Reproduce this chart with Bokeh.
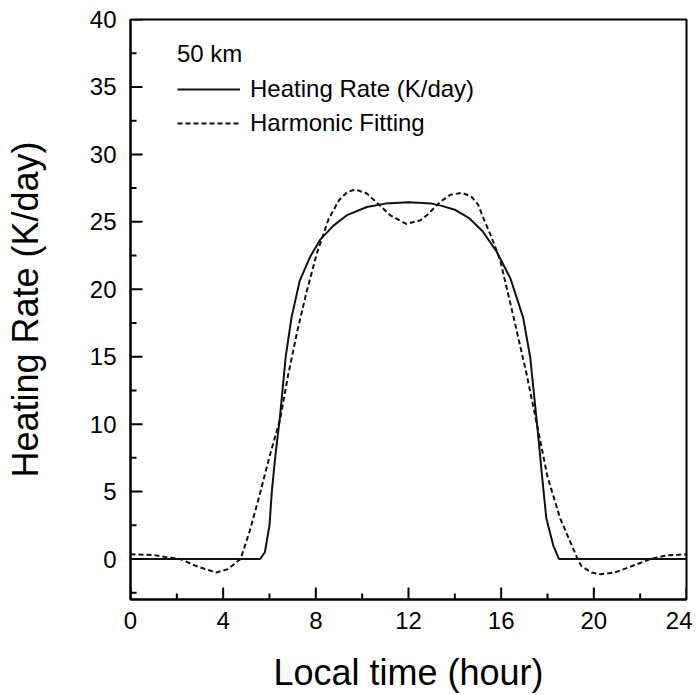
from bokeh.plotting import figure
from bokeh.models import FixedTicker, Legend, LegendItem, Range1d
from bokeh.embed import file_html
from bokeh.resources import INLINE

# ---- data ----
hr_time = [0.0, 5.6, 5.8, 6.0, 6.1, 6.25, 6.45, 6.7, 6.95, 7.3, 7.75, 8.2, 8.75, 9.35,
           10.2, 11.0, 12.0, 13.0, 13.4, 14.0, 14.6, 15.2, 15.8, 16.4, 16.95, 17.25,
           17.55, 17.75, 17.95, 18.25, 18.5, 24.0]
hr_value = [0.0, 0.0, 0.5, 2.5, 5.0, 7.6, 10.5, 15.0, 17.9, 20.6, 22.4, 23.7, 24.7, 25.5,
            26.1, 26.35, 26.45, 26.35, 26.2, 25.9, 25.3, 24.3, 22.8, 20.8, 17.9, 15.0,
            10.0, 6.4, 3.0, 1.0, 0.0, 0.0]

fit_time = [0.0, 1.0, 1.5, 2.15, 2.8, 3.7, 4.2, 4.75, 5.15, 5.55, 6.0, 6.45, 6.8, 7.2,
            7.6, 8.05, 8.55, 9.0, 9.35, 9.7, 10.2, 10.65, 11.2, 11.9, 12.5, 12.8, 13.35,
            13.8, 14.3, 14.7, 15.0, 15.25, 15.55, 15.95, 16.5, 17.1, 17.6, 18.0, 18.55,
            19.25, 19.45, 19.9, 20.3, 20.9, 21.45, 22.45, 23.15, 24.0]
fit_value = [0.35, 0.3, 0.15, 0.0, -0.5, -1.0, -0.75, 0.0, 2.1, 4.6, 7.6, 10.3, 13.6, 16.9,
             19.8, 22.7, 25.2, 26.6, 27.2, 27.4, 27.1, 26.4, 25.5, 24.85, 25.1, 25.5, 26.45,
             27.0, 27.15, 26.9, 26.3, 25.2, 24.0, 22.2, 18.2, 13.7, 9.5, 6.1, 3.0,
             0.2, -0.5, -1.0, -1.13, -1.0, -0.65, 0.0, 0.27, 0.35]

x_major = [0, 4, 8, 12, 16, 20, 24]
x_minor = [2, 6, 10, 14, 18, 22]
y_major = [0, 5, 10, 15, 20, 25, 30, 35, 40]
y_minor = [-2.5, 2.5, 7.5, 12.5, 17.5, 22.5, 27.5, 32.5, 37.5]

legend_title = "50 km"
label_solid = "Heating Rate (K/day)"
label_dashed = "Harmonic Fitting"

FONT = "Liberation Sans"

X0, X1 = 0, 24
Y0, Y1 = -3, 40
W, H = 692, 695
BL, BR, BT, BB = 130, 6, 19, 91
frame_w = W - BL - BR
frame_h = H - BT - BB
xpp = (X1 - X0) / frame_w   # data units per pixel
ypp = (Y1 - Y0) / frame_h
MAJ, MIN = 12, 6            # inward tick lengths in px

p = figure(width=W, height=H, output_backend="svg", toolbar_location=None,
           x_range=Range1d(X0, X1), y_range=Range1d(Y0, Y1),
           min_border_left=BL, min_border_right=BR, min_border_top=BT, min_border_bottom=BB,
           x_axis_label="Local time (hour)", y_axis_label="Heating Rate (K/day)")
p.background_fill_color = "white"
p.border_fill_color = "white"
p.xgrid.visible = False
p.ygrid.visible = False
p.outline_line_color = "black"
p.outline_line_width = 2
p.outline_line_alpha = 1

r1 = p.line(hr_time, hr_value, line_color="#111111", line_width=2)
r2 = p.line(fit_time, fit_value, line_color="#111111", line_width=2, line_dash="5 3")

# inward ticks drawn as segments from the tick lists
p.segment(x0=x_major, x1=x_major, y0=[Y0] * len(x_major), y1=[Y0 + MAJ * ypp] * len(x_major),
          line_color="black", line_width=2)
p.segment(x0=x_minor, x1=x_minor, y0=[Y0] * len(x_minor), y1=[Y0 + MIN * ypp] * len(x_minor),
          line_color="black", line_width=2)
p.segment(y0=y_major, y1=y_major, x0=[X0] * len(y_major), x1=[X0 + MAJ * xpp] * len(y_major),
          line_color="black", line_width=2)
p.segment(y0=y_minor, y1=y_minor, x0=[X0] * len(y_minor), x1=[X0 + MIN * xpp] * len(y_minor),
          line_color="black", line_width=2)

p.xaxis.ticker = FixedTicker(ticks=x_major, minor_ticks=x_minor)
p.yaxis.ticker = FixedTicker(ticks=y_major, minor_ticks=y_minor)

for ax in (p.xaxis[0], p.yaxis[0]):
    ax.axis_line_width = 2
    ax.axis_line_color = "black"
    ax.major_tick_line_color = None
    ax.minor_tick_line_color = None
    ax.major_tick_in = 0
    ax.major_tick_out = 0
    ax.minor_tick_in = 0
    ax.minor_tick_out = 0
    ax.major_label_text_font = FONT
    ax.major_label_text_font_size = "24px"
    ax.major_label_text_color = "black"
    ax.axis_label_text_font = FONT
    ax.axis_label_text_font_size = "36px"
    ax.axis_label_text_font_style = "normal"
    ax.axis_label_text_color = "black"

p.xaxis.major_label_standoff = 12
p.xaxis.axis_label_standoff = 20
p.yaxis.major_label_standoff = 14
p.yaxis.axis_label_standoff = 41

legend = Legend(items=[LegendItem(label=label_solid, renderers=[r1]),
                       LegendItem(label=label_dashed, renderers=[r2])],
                title=legend_title, location=(47, 459))
legend.title_text_font = FONT
legend.title_text_font_size = "24px"
legend.title_text_font_style = "normal"
legend.title_text_color = "black"
legend.title_standoff = 4
legend.label_text_font = FONT
legend.label_text_font_size = "24px"
legend.label_text_color = "black"
legend.glyph_width = 63
legend.glyph_height = 34
legend.label_height = 34
legend.label_standoff = 10
legend.spacing = 0
legend.padding = 0
legend.margin = 0
legend.border_line_alpha = 0
legend.background_fill_alpha = 0
p.add_layout(legend, "center")

open("out.html", "w").write(file_html(p, INLINE))
